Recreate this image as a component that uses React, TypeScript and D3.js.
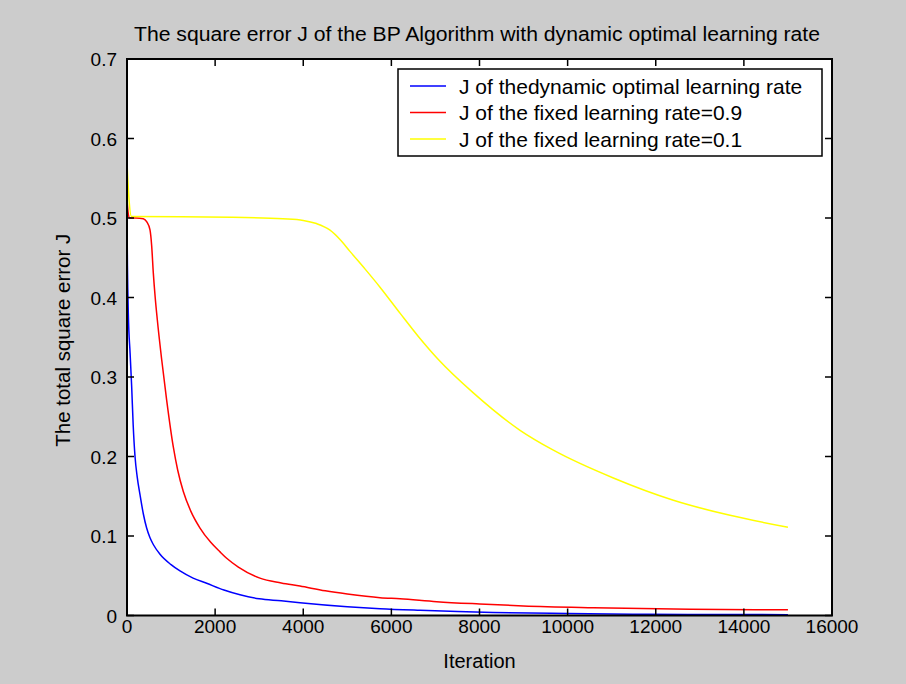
import React from "react";
import * as d3 from "d3";

const blueIter = [0, 10, 30, 70, 106, 140, 182, 230, 295, 370, 446, 520, 600, 749, 1000, 1203, 1500, 1808, 2200, 2565, 3000, 3500, 3926, 5000, 5742, 6650, 7500, 8307, 10000, 11825, 13500, 15000];
const blueJ = [0.5, 0.44, 0.38, 0.33, 0.288, 0.24, 0.2, 0.175, 0.152, 0.128, 0.11, 0.098, 0.089, 0.077, 0.064, 0.056, 0.047, 0.0405, 0.032, 0.026, 0.021, 0.0185, 0.016, 0.011, 0.0085, 0.0065, 0.005, 0.0038, 0.0025, 0.0016, 0.0013, 0.0011];

const redIter = [0, 30, 60, 200, 370, 450, 522, 560, 597, 640, 688, 787, 900, 1051, 1150, 1278, 1450, 1657, 1900, 2111, 2262, 2527, 3018, 3500, 3926, 4500, 5000, 5742, 6196, 7029, 8000, 8995, 10584, 12778, 15000];
const redJ = [0.524, 0.505, 0.5, 0.5, 0.499, 0.495, 0.485, 0.465, 0.431, 0.4, 0.372, 0.322, 0.271, 0.212, 0.183, 0.156, 0.131, 0.11, 0.092, 0.08, 0.072, 0.061, 0.047, 0.041, 0.037, 0.031, 0.027, 0.0224, 0.021, 0.0174, 0.0145, 0.012, 0.0098, 0.0079, 0.0072];

const yellowIter = [0, 50, 100, 2376, 3540, 4000, 4300, 4600, 4850, 5060, 5400, 5742, 6200, 6612, 7066, 7860, 8920, 9676, 11038, 12400, 13686, 15000];
const yellowJ = [0.57, 0.52, 0.502, 0.501, 0.499, 0.497, 0.493, 0.485, 0.472, 0.458, 0.436, 0.413, 0.38, 0.351, 0.322, 0.28, 0.233, 0.208, 0.173, 0.145, 0.126, 0.111];

const xTicks = [0, 2000, 4000, 6000, 8000, 10000, 12000, 14000, 16000];
const yTicks = [0, 0.1, 0.2, 0.3, 0.4, 0.5, 0.6, 0.7];

const seriesNames = [
  "J of thedynamic optimal learning rate",
  "J of the fixed learning rate=0.9",
  "J of the fixed learning rate=0.1",
];
const seriesColors = ["#0000ff", "#ff0000", "#ffff00"];

const titleText = "The square error J of the BP Algorithm with dynamic optimal learning rate";
const xLabel = "Iteration";
const yLabel = "The total square error J";

export default function App() {
  const W = 906, H = 684;
  const L = 127, R = 832, T = 59, B = 615.5;
  const x = d3.scaleLinear().domain([0, 16000]).range([L, R]);
  const y = d3.scaleLinear().domain([0, 0.7]).range([B, T]);
  const line = d3
    .line<[number, number]>()
    .x((d) => x(d[0]))
    .y((d) => y(d[1]))
    .curve(d3.curveMonotoneX);

  const series = [
    { iter: blueIter, J: blueJ },
    { iter: redIter, J: redJ },
    { iter: yellowIter, J: yellowJ },
  ];
  const font = "'Liberation Sans', Arial, Helvetica, sans-serif";
  const tickLen = 7;

  return (
    <svg
      width={W}
      height={H}
      style={{ position: "absolute", left: 0, top: 0 }}
      fontFamily={font}
    >
      <rect x={0} y={0} width={W} height={H} fill="#cccccc" />
      <rect x={L} y={T} width={R - L} height={B - T} fill="#ffffff" />

      {series.map((s, i) => (
        <path
          key={i}
          d={line(s.iter.map((v, k) => [v, s.J[k]] as [number, number])) || ""}
          fill="none"
          stroke={seriesColors[i]}
          strokeWidth={1.5}
        />
      ))}

      {/* box */}
      <rect x={L} y={T} width={R - L} height={B - T} fill="none" stroke="#000" strokeWidth={2} />

      {/* x ticks */}
      {xTicks.map((t) => (
        <g key={"x" + t}>
          <line x1={x(t)} x2={x(t)} y1={B} y2={B - tickLen} stroke="#000" strokeWidth={1.5} />
          <line x1={x(t)} x2={x(t)} y1={T} y2={T + tickLen} stroke="#000" strokeWidth={1.5} />
          <text x={x(t)} y={633} textAnchor="middle" fontSize={19} fill="#000">
            {t}
          </text>
        </g>
      ))}
      {/* y ticks */}
      {yTicks.map((t) => (
        <g key={"y" + t}>
          <line x1={L} x2={L + tickLen} y1={y(t)} y2={y(t)} stroke="#000" strokeWidth={1.5} />
          <line x1={R} x2={R - tickLen} y1={y(t)} y2={y(t)} stroke="#000" strokeWidth={1.5} />
          <text x={117} y={y(t) + 7} textAnchor="end" fontSize={19} fill="#000">
            {t === 0 ? "0" : t.toFixed(1)}
          </text>
        </g>
      ))}

      <text
        x={477}
        y={41}
        textAnchor="middle"
        fontSize={20}
        fill="#000"
        textLength={686}
        lengthAdjust="spacingAndGlyphs"
      >
        {titleText}
      </text>
      <text x={(L + R) / 2} y={668} textAnchor="middle" fontSize={20} fill="#000">
        {xLabel}
      </text>
      <text
        transform={`translate(70, ${(T + B) / 2 + 3}) rotate(-90)`}
        textAnchor="middle"
        fontSize={20.5}
        fill="#000"
      >
        {yLabel}
      </text>

      {/* legend */}
      <rect x={398} y={69} width={424} height={87} fill="#ffffff" stroke="#000" strokeWidth={1.5} />
      {seriesNames.map((n, i) => (
        <g key={n}>
          <line x1={410} x2={446} y1={86 + i * 26.5} y2={86 + i * 26.5} stroke={seriesColors[i]} strokeWidth={1.5} />
          <text x={459} y={86 + i * 26.5 + 7.5} fontSize={21} fill="#000">
            {n}
          </text>
        </g>
      ))}
    </svg>
  );
}
